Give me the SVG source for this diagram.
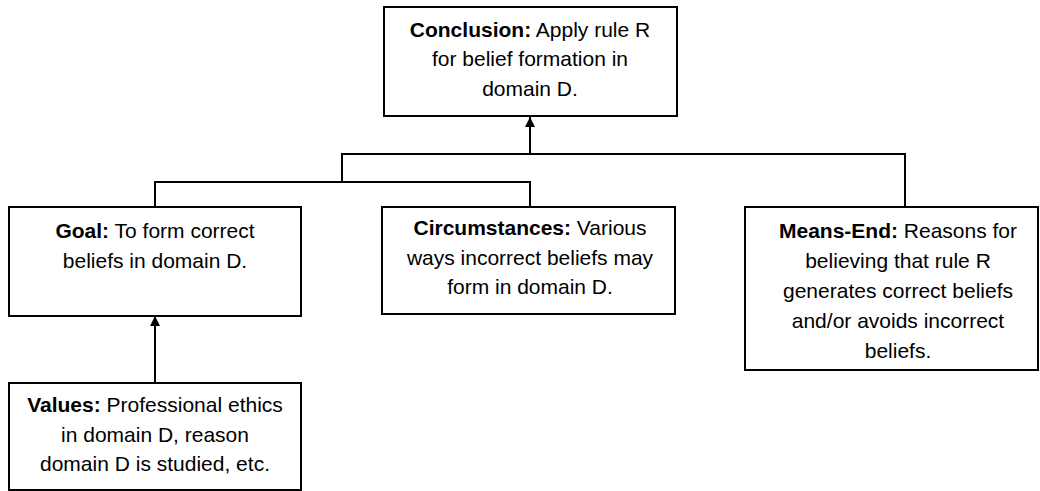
<svg xmlns="http://www.w3.org/2000/svg" width="1040" height="491" viewBox="0 0 1040 491">
<style>
.box{fill:#fff;stroke:#000;stroke-width:2}
.t{font-family:"Liberation Sans",Arial,sans-serif;font-size:21px;fill:#000;text-anchor:middle}
.b{font-weight:bold}
.c{fill:none;stroke:#000;stroke-width:2}
</style>
<defs>
<marker id="arr" viewBox="0 0 10 10" refX="10" refY="5" markerWidth="5" markerHeight="6" orient="auto" markerUnits="strokeWidth">
<path d="M0,0 L10,5 L0,10 z" fill="#000"/>
</marker>
</defs>
<rect width="1040" height="491" fill="#fff"/>
<g id="connectors">
<path class="c" d="M342,154 H905 V207"/>
<path class="c" d="M530,154 V117" marker-end="url(#arr)"/>
<path class="c" d="M342,153 V182"/>
<path class="c" d="M155,207 V182 H530 V207"/>
<path class="c" d="M155,383 V316" marker-end="url(#arr)"/>
</g>
<g id="conclusion">
<rect class="box" x="384" y="7" width="293" height="109"/>
<text class="t" x="530" y="37"><tspan class="b">Conclusion:</tspan> Apply rule R</text>
<text class="t" x="530" y="66">for belief formation in</text>
<text class="t" x="530" y="96">domain D.</text>
</g>
<g id="goal">
<rect class="box" x="9" y="207" width="292" height="109"/>
<text class="t" x="155" y="238"><tspan class="b">Goal:</tspan> To form correct</text>
<text class="t" x="155" y="268">beliefs in domain D.</text>
</g>
<g id="circumstances">
<rect class="box" x="382" y="207" width="293" height="107"/>
<text class="t" x="530" y="235"><tspan class="b">Circumstances:</tspan> Various</text>
<text class="t" x="530" y="265">ways incorrect beliefs may</text>
<text class="t" x="530" y="294">form in domain D.</text>
</g>
<g id="means-end">
<rect class="box" x="745" y="207" width="293" height="163"/>
<text class="t" x="898" y="238"><tspan class="b">Means-End:</tspan> Reasons for</text>
<text class="t" x="898" y="268">believing that rule R</text>
<text class="t" x="898" y="298">generates correct beliefs</text>
<text class="t" x="898" y="328">and/or avoids incorrect</text>
<text class="t" x="898" y="358">beliefs.</text>
</g>
<g id="values">
<rect class="box" x="9" y="383" width="292" height="107"/>
<text class="t" x="155" y="412"><tspan class="b">Values:</tspan> Professional ethics</text>
<text class="t" x="155" y="442">in domain D, reason</text>
<text class="t" x="155" y="471">domain D is studied, etc.</text>
</g>
</svg>
